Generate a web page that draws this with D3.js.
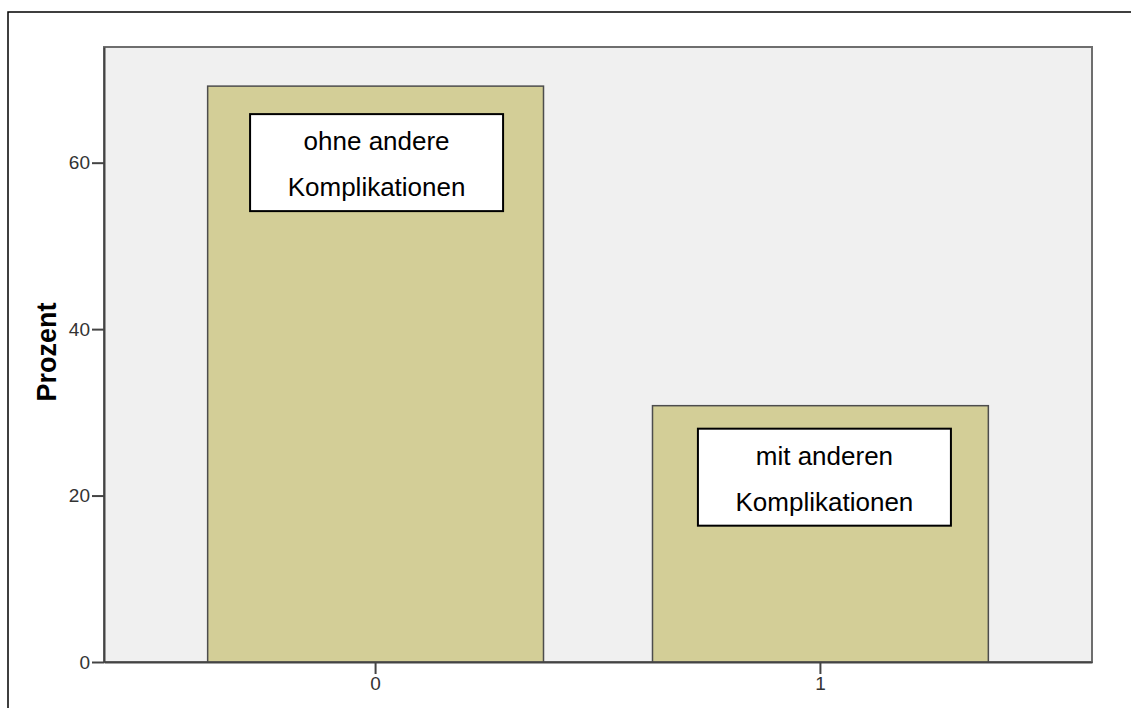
<!DOCTYPE html>
<html>
<head>
<meta charset="utf-8">
<script src="https://cdn.jsdelivr.net/npm/d3@7"></script>
<style>
  body { margin: 0; background: #fff; }
  svg { display: block; font-family: Arial, "Liberation Sans", sans-serif; }
</style>
</head>
<body>
<div id="chart"></div>
<script>
const categories = ["0", "1"];
const percents = [69.2, 30.8];
const labels = [["ohne andere", "Komplikationen"], ["mit anderen", "Komplikationen"]];
const yTicks = [0, 20, 40, 60];

const W = 1131, H = 708;
const margin = {top: 47, right: 39, bottom: 46, left: 104},
      width = W - margin.left - margin.right,
      height = H - margin.top - margin.bottom;

const root = d3.select("#chart").append("svg")
  .attr("width", W).attr("height", H);

// outer frame (runs off the right/bottom edge)
root.append("rect")
  .attr("x", 8).attr("y", 12)
  .attr("width", 1200).attr("height", 800)
  .attr("fill", "none").attr("stroke", "#000").attr("stroke-width", 1.5);

const svg = root.append("g").attr("transform", `translate(${margin.left},${margin.top})`);

const x = d3.scaleBand().domain(categories).range([0, width])
  .paddingInner(0.245).paddingOuter(0.233);
const y = d3.scaleLinear().domain([0, 73.9]).range([height, 0]);

svg.append("rect")
  .attr("width", width).attr("height", height)
  .attr("fill", "#f0f0f0").attr("stroke", "#6e6e6e").attr("stroke-width", 2);

const data = categories.map((c, i) => ({cat: c, val: percents[i], label: labels[i]}));

svg.selectAll(".bar").data(data).enter().append("rect")
  .attr("class", "bar")
  .attr("x", d => x(d.cat))
  .attr("y", d => y(d.val))
  .attr("width", x.bandwidth())
  .attr("height", d => height - y(d.val))
  .attr("fill", "#d3ce97")
  .attr("stroke", "#4d4d4d").attr("stroke-width", 1.5);

// label boxes
const boxW = 253, boxDx = [1, 4], boxDy = [28, 23];
const lbl = svg.selectAll(".lbl").data(data).enter().append("g")
  .attr("class", "lbl")
  .attr("transform", (d, i) => `translate(${x(d.cat) + x.bandwidth() / 2 + boxDx[i]},${y(d.val) + boxDy[i]})`);
lbl.append("rect")
  .attr("x", -boxW / 2).attr("y", 0)
  .attr("width", boxW).attr("height", 97)
  .attr("fill", "#fff").attr("stroke", "#000").attr("stroke-width", 2);
lbl.selectAll("text").data(d => d.label).enter().append("text")
  .attr("x", 0).attr("y", (t, j) => 36 + j * 46)
  .attr("text-anchor", "middle")
  .style("font-size", "26px").style("fill", "#000")
  .text(t => t);

// y axis
const yAxis = svg.append("g")
  .call(d3.axisLeft(y).tickValues(yTicks).tickSize(12).tickSizeOuter(0).tickPadding(2));
yAxis.select(".domain").attr("stroke", "#444").attr("stroke-width", 2);
yAxis.selectAll(".tick line").attr("stroke", "#444").attr("stroke-width", 2);
yAxis.selectAll(".tick text").style("font-size", "19px").style("fill", "#333");

// x axis
const xAxis = svg.append("g")
  .attr("transform", `translate(0,${height})`)
  .call(d3.axisBottom(x).tickSize(12).tickSizeOuter(0).tickPadding(3));
xAxis.select(".domain").attr("stroke", "#444").attr("stroke-width", 2);
xAxis.selectAll(".tick line").attr("stroke", "#444").attr("stroke-width", 2);
xAxis.selectAll(".tick text").style("font-size", "19px").style("fill", "#333");

// y title
root.append("text")
  .attr("transform", `translate(56,352) rotate(-90)`)
  .attr("text-anchor", "middle")
  .style("font-size", "27px").style("font-weight", "bold").style("fill", "#000")
  .text("Prozent");
</script>
</body>
</html>
